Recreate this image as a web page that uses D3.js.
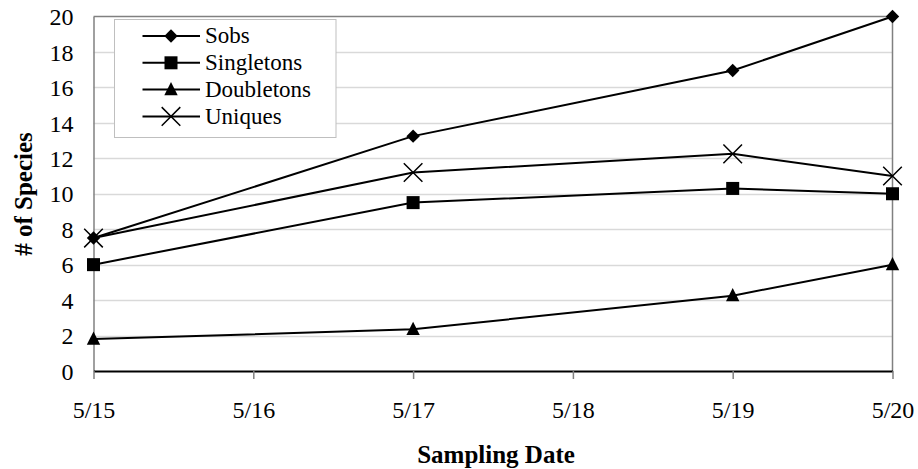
<!DOCTYPE html>
<html>
<head>
<meta charset="utf-8">
<script src="https://cdn.jsdelivr.net/npm/d3@7"></script>
<style>
  html, body { margin: 0; padding: 0; background: #fff; }
  svg { display: block; }
</style>
</head>
<body>
<svg id="chart" width="918" height="469"></svg>
<script>
// Sampling dates (month/day) and species counts per series
const sampleDates = ["5/15", "5/17", "5/19", "5/20"];
const sobs        = [7.5, 13.25, 16.95, 20];
const singletons  = [6, 9.5, 10.3, 10];
const doubletons  = [1.8, 2.35, 4.25, 6];
const uniques     = [7.5, 11.2, 12.25, 11];

const xTickLabels = ["5/15", "5/16", "5/17", "5/18", "5/19", "5/20"];
const yTicks      = [0, 2, 4, 6, 8, 10, 12, 14, 16, 18, 20];

const seriesNames   = ["Sobs", "Singletons", "Doubletons", "Uniques"];
const seriesValues  = [sobs, singletons, doubletons, uniques];
const seriesSymbols = ["diamond", "square", "triangle", "cross"];

const SERIF = '"Liberation Serif", "Times New Roman", Times, "DejaVu Serif", serif';
const dayOf = s => +s.split("/")[1];

const svg = d3.select("#chart");
const plot = { left: 93.5, right: 892.5, top: 16.5, bottom: 371 };

const x = d3.scaleLinear()
  .domain([dayOf(xTickLabels[0]), dayOf(xTickLabels[xTickLabels.length - 1])])
  .range([plot.left, plot.right]);
const y = d3.scaleLinear().domain([0, 20]).range([plot.bottom, plot.top]);

// Horizontal gridlines
svg.append("g")
  .selectAll("line")
  .data(yTicks.filter(t => t > 0 && t < 20))
  .join("line")
  .attr("x1", plot.left).attr("x2", plot.right)
  .attr("y1", d => Math.round(y(d)) + 0.5).attr("y2", d => Math.round(y(d)) + 0.5)
  .attr("stroke", "#d9d9d9").attr("stroke-width", 1.5);

// Plot-area frame: top and right edges
svg.append("path")
  .attr("d", `M${plot.left},${plot.top}H${plot.right}V${plot.bottom}`)
  .attr("fill", "none").attr("stroke", "#808080").attr("stroke-width", 1.5);

// Y axis (no tick marks, labels only)
const yAxis = svg.append("g")
  .attr("transform", `translate(${plot.left},0)`)
  .call(d3.axisLeft(y).tickValues(yTicks).tickSize(0).tickPadding(20));
yAxis.attr("font-family", null);
yAxis.select(".domain").attr("stroke", "#808080").attr("stroke-width", 1.5);
yAxis.selectAll("text")
  .style("font-family", SERIF)
  .style("font-size", "24px")
  .attr("fill", "#000")
  .attr("dy", "0.34em");

// X axis
const xAxis = svg.append("g")
  .attr("transform", `translate(0,${plot.bottom})`)
  .call(d3.axisBottom(x)
    .tickValues(xTickLabels.map(dayOf))
    .tickFormat(d => xTickLabels.find(l => dayOf(l) === d))
    .tickSizeInner(8).tickSizeOuter(0).tickPadding(22));
xAxis.attr("font-family", null);
xAxis.select(".domain").attr("stroke", "#000").attr("stroke-width", 2);
xAxis.selectAll(".tick line").attr("stroke", "#808080").attr("stroke-width", 1.5);
xAxis.selectAll("text")
  .style("font-family", SERIF)
  .style("font-size", "24px")
  .attr("fill", "#000");

// Axis titles
svg.append("text")
  .attr("x", (plot.left + plot.right) / 2 + 3)
  .attr("y", 463)
  .attr("text-anchor", "middle")
  .style("font-family", SERIF)
  .style("font-size", "25px").style("font-weight", "bold")
  .text("Sampling Date");

svg.append("text")
  .attr("transform", `translate(32,194) rotate(-90)`)
  .attr("text-anchor", "middle")
  .style("font-family", SERIF)
  .style("font-size", "25px").style("font-weight", "bold")
  .text("# of Species");

// Marker drawing
function drawMarker(g, type, cx, cy) {
  if (type === "diamond") {
    const r = 6.7;
    g.append("path").attr("d", `M${cx},${cy - r}L${cx + r},${cy}L${cx},${cy + r}L${cx - r},${cy}Z`).attr("fill", "#000");
  } else if (type === "square") {
    const h = 6.5;
    g.append("rect").attr("x", cx - h).attr("y", cy - h).attr("width", 2 * h).attr("height", 2 * h).attr("fill", "#000");
  } else if (type === "triangle") {
    const h = 6.7;
    g.append("path").attr("d", `M${cx},${cy - h - 1}L${cx + h},${cy + h - 1}L${cx - h},${cy + h - 1}Z`).attr("fill", "#000");
  } else if (type === "cross") {
    const h = 9.3;
    g.append("path").attr("d", `M${cx - h},${cy - h}L${cx + h},${cy + h}M${cx - h},${cy + h}L${cx + h},${cy - h}`)
      .attr("stroke", "#000").attr("stroke-width", 1.5).attr("fill", "none");
  }
}

// Series lines and markers
const line = d3.line().x(d => x(d.day)).y(d => y(d.v));
seriesValues.forEach((vals, i) => {
  const pts = vals.map((v, j) => ({ day: dayOf(sampleDates[j]), v }));
  const g = svg.append("g");
  g.append("path").attr("d", line(pts)).attr("fill", "none")
    .attr("stroke", "#000").attr("stroke-width", 2);
  pts.forEach(p => drawMarker(g, seriesSymbols[i], x(p.day), y(p.v)));
});

// Legend
const legend = svg.append("g");
legend.append("rect")
  .attr("x", 114.5).attr("y", 19.5).attr("width", 221.5).attr("height", 118)
  .attr("fill", "#fff").attr("stroke", "#bfbfbf").attr("stroke-width", 1);
seriesNames.forEach((name, i) => {
  const cy = 36 + i * 26.8;
  legend.append("line").attr("x1", 142.5).attr("x2", 200).attr("y1", cy).attr("y2", cy)
    .attr("stroke", "#000").attr("stroke-width", 2);
  drawMarker(legend, seriesSymbols[i], 171, cy);
  legend.append("text").attr("x", 205).attr("y", cy).attr("dy", "0.32em")
    .style("font-family", SERIF)
    .style("font-size", "23px").text(name);
});
</script>
</body>
</html>
